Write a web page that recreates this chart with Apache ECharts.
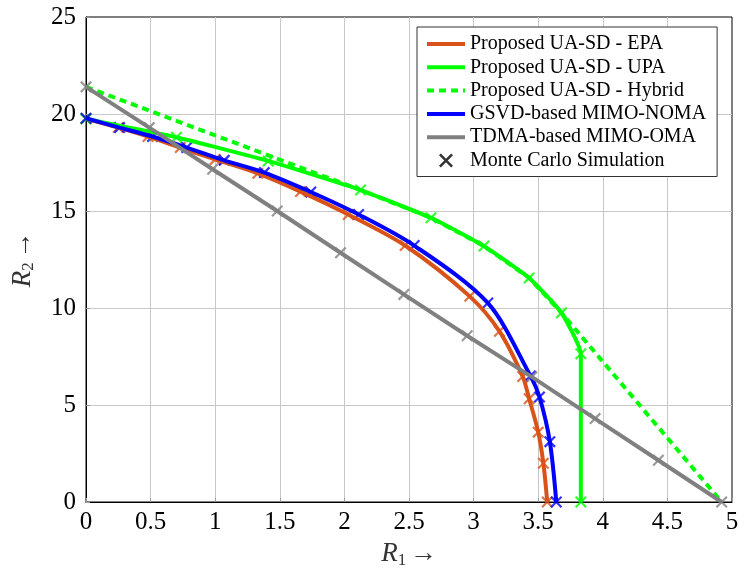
<!DOCTYPE html>
<html>
<head>
<meta charset="utf-8">
<script src="https://cdn.jsdelivr.net/npm/echarts@6/dist/echarts.min.js"></script>
<style>
  html, body { margin: 0; padding: 0; background: #fff; }
  #chart { width: 748px; height: 579px; }
</style>
</head>
<body>
<div id="chart"></div>
<script>
// rate pairs [R1, R2]
var epaPts = [[0, 19.75], [0.25, 19.3], [0.48, 18.84], [0.73, 18.27], [1.0, 17.66], [1.33, 16.94],
    [1.66, 16.0], [2.03, 14.82], [2.47, 13.22], [2.97, 10.6], [3.2, 8.8], [3.38, 6.47],
    [3.43, 5.32], [3.5, 3.6], [3.54, 2.0], [3.57, 0]];
var upaPts = [[0, 19.75], [0.7, 18.8], [1.41, 17.58], [2.125, 16.08], [2.67, 14.65], [3.08, 13.19],
    [3.43, 11.55], [3.68, 9.75], [3.83, 7.64], [3.83, 0]];
var hybridPts = [[0, 21.4], [2.125, 16.08], [2.67, 14.65], [3.08, 13.19], [3.43, 11.55],
    [3.68, 9.75], [4.92, 0]];
var gsvdPts = [[0, 19.78], [0.26, 19.3], [0.515, 18.84], [0.78, 18.27], [1.07, 17.61], [1.38, 16.98],
    [1.74, 15.98], [2.11, 14.82], [2.54, 13.22], [3.11, 10.26], [3.44, 6.5], [3.51, 5.41],
    [3.59, 3.11], [3.64, 0]];
var tdmaPts = [[0, 21.4], [0.49, 19.3], [0.98, 17.15], [1.48, 15.0], [1.97, 12.85], [2.46, 10.7],
    [2.95, 8.57], [3.45, 6.45], [3.94, 4.3], [4.43, 2.15], [4.92, 0]];

var names = ['Proposed UA-SD - EPA', 'Proposed UA-SD - UPA', 'Proposed UA-SD - Hybrid',
    'GSVD-based MIMO-NOMA', 'TDMA-based MIMO-OMA', 'Monte Carlo Simulation'];

var ORANGE = '#D95319', GREEN = '#00FF00', BLUE = '#0000FF', GRAY = '#808080';
var FONT = 'Liberation Serif';
var CROSS = 'path://M0,1.3L1.3,0L10,8.7L8.7,10ZM8.7,0L10,1.3L1.3,10L0,8.7Z';

function curve(name, data, color, dash, smooth) {
    return {
        name: name,
        type: 'line',
        data: data,
        symbol: 'none',
        smooth: smooth || false,
        lineStyle: { color: color, width: 4, type: dash || 'solid' },
        itemStyle: { color: color }
    };
}

function marks(data, color) {
    return {
        name: names[5],
        type: 'scatter',
        data: data,
        symbol: CROSS,
        symbolSize: 12,
        itemStyle: { color: color }
    };
}

var axisName = {
    r: { fontFamily: FONT, fontStyle: 'italic', fontSize: 27, color: '#333' },
    s: { fontFamily: FONT, fontSize: 17, color: '#333', lineHeight: 17, padding: [12, 0, 0, 0] },
    a: { fontFamily: FONT, fontSize: 27, color: '#333' }
};

// legend entries: lines hide their dot, the simulation entry keeps a black cross
var legendData = names.map(function (n, i) {
    if (i === 5) {
        return { name: n, itemStyle: { color: '#000' } };
    }
    return { name: n, itemStyle: { color: 'transparent', borderWidth: 0 } };
});

var option = {
    animation: false,
    backgroundColor: '#fff',
    grid: {
        left: 85, right: 16, top: 17, bottom: 77,
        show: true, borderColor: '#000', borderWidth: 1
    },
    legend: {
        data: legendData,
        orient: 'vertical',
        left: 417, top: 27,
        padding: [7, 11, 6, 8],
        itemWidth: 38, itemHeight: 14, itemGap: 3.3,
        lineStyle: { width: 4 },
        borderColor: '#333', borderWidth: 1,
        backgroundColor: '#fff',
        textStyle: { fontFamily: FONT, fontSize: 20, lineHeight: 20, color: '#000' }
    },
    xAxis: {
        type: 'value', min: 0, max: 5, interval: 0.5,
        name: '{r|R}{s|1} {a|→}',
        nameLocation: 'middle', nameGap: 38,
        nameTextStyle: { rich: axisName },
        axisLine: { show: true, lineStyle: { color: '#000', width: 1 } },
        axisTick: { show: true, inside: true, length: 4, lineStyle: { color: '#999' } },
        axisLabel: { fontFamily: FONT, fontSize: 25, color: '#000', margin: 8 },
        splitLine: { show: true, showMinLine: false, showMaxLine: false, lineStyle: { color: '#c8c8c8', width: 1 } }
    },
    yAxis: {
        type: 'value', min: 0, max: 25, interval: 5,
        name: '{r|R}{s|2} {a|→}',
        nameLocation: 'middle', nameGap: 50,
        nameTextStyle: { rich: axisName },
        axisLine: { show: true, lineStyle: { color: '#000', width: 1 } },
        axisTick: { show: true, inside: true, length: 4, lineStyle: { color: '#999' } },
        axisLabel: { fontFamily: FONT, fontSize: 25, color: '#000', margin: 10 },
        splitLine: { show: true, showMinLine: false, showMaxLine: false, lineStyle: { color: '#c8c8c8', width: 1 } }
    },
    series: [
        curve(names[0], epaPts, ORANGE, null, 0.3),
        curve(names[1], upaPts, GREEN, null, 0.15),
        curve(names[2], hybridPts, GREEN, [7, 5]),
        curve(names[3], gsvdPts, BLUE, null, 0.3),
        curve(names[4], tdmaPts, GRAY),
        {
            name: names[5], type: 'scatter', data: [],
            symbol: CROSS, symbolSize: 12, symbolKeepAspect: true,
            itemStyle: { color: '#000' }
        },
        marks(epaPts, ORANGE),
        marks(upaPts, GREEN),
        marks(gsvdPts, BLUE),
        marks(tdmaPts, GRAY)
    ]
};

var myChart = echarts.init(document.getElementById('chart'));
myChart.setOption(option);
</script>
</body>
</html>
